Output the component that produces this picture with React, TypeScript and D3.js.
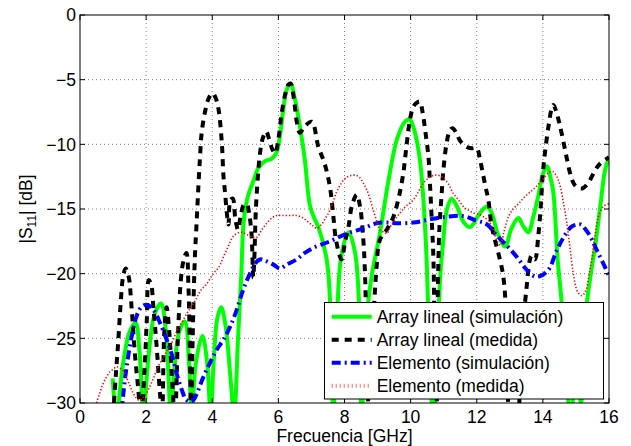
import React from "react";
import * as d3 from "d3";

const W = 631;
const H = 446;

const xTicks = [0, 2, 4, 6, 8, 10, 12, 14, 16];
const yTicks = [-30, -25, -20, -15, -10, -5, 0];

const seriesNames = [
  "Array lineal (simulación)",
  "Array lineal (medida)",
  "Elemento (simulación)",
  "Elemento (medida)",
];

const arraySim: [number, number][] = [
  [0.99, -28.1], [1.1, -31], [1.3, -27], [1.5, -24.5], [1.68, -23.8], [1.8, -26], [1.92, -31],
  [2.05, -27], [2.25, -23.2], [2.45, -22.3], [2.6, -24.5], [2.75, -31], [2.85, -27.5], [3.0, -24.5],
  [3.17, -23.7], [3.3, -27], [3.38, -31], [3.5, -27], [3.7, -24.8], [3.85, -27], [3.95, -31],
  [4.05, -26.5], [4.15, -23.5], [4.27, -22.6], [4.4, -24], [4.55, -28], [4.66, -31], [4.78, -25],
  [4.88, -20], [4.95, -16], [5.08, -14], [5.25, -12.8], [5.4, -11.8], [5.6, -11.3], [5.8, -11.1],
  [5.95, -10.6], [6.05, -9.3], [6.15, -7.3], [6.25, -5.8], [6.37, -5.3], [6.5, -6.5], [6.65, -8.6],
  [6.8, -11.2], [6.96, -14.8], [7.1, -15.8], [7.21, -16.4], [7.46, -18.9], [7.58, -23], [7.66, -31],
  [7.78, -23], [7.9, -18.7], [8.12, -16.8], [8.32, -18.4], [8.45, -23], [8.52, -31], [8.65, -24],
  [8.82, -20.2], [9.07, -16.9], [9.33, -12.8], [9.6, -9.5], [9.85, -8.2], [9.98, -8.1], [10.1, -8.8],
  [10.28, -11.2], [10.45, -17], [10.6, -28], [10.7, -32], [10.8, -26], [10.9, -20], [10.99, -17.4],
  [11.1, -15], [11.24, -14.2], [11.4, -14.8], [11.6, -16], [11.8, -16.4], [12.05, -15.5], [12.3, -14.8],
  [12.45, -15.3], [12.65, -17], [12.86, -17.9], [13.05, -16.5], [13.26, -15.7], [13.4, -16.3],
  [13.56, -16.8], [13.72, -15.5], [13.86, -14], [14.0, -12.3], [14.12, -11.7], [14.25, -12.8],
  [14.32, -13.8], [14.45, -19], [14.57, -22.3], [14.7, -28], [14.85, -31], [15.0, -27], [15.15, -30],
  [15.3, -23], [15.45, -20], [15.58, -17.9], [15.75, -14.5], [15.88, -12], [16.0, -11],
];

const arrayMeas: [number, number][] = [
  [0.98, -32], [1.06, -28.7], [1.11, -26.9], [1.16, -25.1], [1.23, -22.3], [1.3, -20.3], [1.38, -19.6],
  [1.47, -20.2], [1.56, -22.6], [1.66, -26.2], [1.75, -28.6], [1.85, -31], [1.95, -27.5], [2.02, -23.6],
  [2.08, -20.5], [2.15, -20.8], [2.22, -22.6], [2.32, -25.7], [2.42, -29.3], [2.48, -31], [2.55, -24.5],
  [2.62, -22.6], [2.7, -24.5], [2.78, -28], [2.87, -31], [2.96, -25], [3.05, -20.5], [3.13, -19],
  [3.22, -18.4], [3.28, -21], [3.33, -27], [3.36, -31], [3.4, -26], [3.44, -21.5], [3.48, -18.4],
  [3.53, -15.9], [3.58, -13.3], [3.63, -11], [3.68, -9.1], [3.78, -7.5], [3.9, -6.4], [4.01, -6.05],
  [4.1, -6.4], [4.19, -7.3], [4.29, -9.9], [4.34, -12.5], [4.39, -13.8], [4.44, -15.3], [4.49, -16.2],
  [4.55, -14.3], [4.62, -14.2], [4.7, -15.8], [4.78, -16.6], [4.86, -15.5], [4.95, -14.7], [5.04, -14.6],
  [5.12, -15.4], [5.19, -17], [5.24, -20.3], [5.27, -19], [5.32, -15], [5.38, -12.5], [5.44, -10.8],
  [5.52, -9.6], [5.63, -9.0], [5.72, -9.6], [5.82, -10.4], [5.9, -10.7], [6.0, -9.6], [6.1, -7.6],
  [6.2, -6.2], [6.3, -5.4], [6.37, -5.3], [6.47, -6.5], [6.56, -8.3], [6.65, -9.1], [6.8, -8.6],
  [7.01, -8.25], [7.21, -10.2], [7.4, -11.5], [7.56, -13.3], [7.66, -15.5], [7.75, -17.5], [7.91, -18.9],
  [8.02, -17.5], [8.12, -16.4], [8.22, -14.8], [8.37, -13.9], [8.47, -14.8], [8.57, -17.4], [8.62, -20],
  [8.72, -30], [8.77, -31], [8.85, -25], [8.97, -19.5], [9.07, -17.4], [9.3, -16.5], [9.48, -15.6],
  [9.65, -14], [9.78, -12.2], [9.88, -10], [9.98, -8.1], [10.08, -7.1], [10.18, -6.8], [10.28, -6.7],
  [10.36, -7.5], [10.44, -8.9], [10.54, -11], [10.59, -13.3], [10.64, -15.9], [10.69, -18.9],
  [10.74, -28], [10.78, -31], [10.82, -22], [10.87, -16.5], [10.94, -13.8], [10.99, -12], [11.09, -9.9],
  [11.19, -8.9], [11.27, -8.75], [11.38, -9.1], [11.49, -9.7], [11.7, -10.2], [11.85, -10.3],
  [12.0, -10.3], [12.1, -11.2], [12.25, -13.1], [12.35, -14.3], [12.45, -16.3], [12.55, -17.4],
  [12.7, -18.9], [12.79, -20], [12.86, -21.8], [12.95, -30], [13.0, -32], [13.2, -32], [13.3, -29],
  [13.4, -24], [13.51, -21], [13.6, -19], [13.66, -18.6], [13.76, -18.9], [13.86, -17.1], [13.93, -15],
  [14.0, -12.2], [14.07, -10.5], [14.17, -8.6], [14.25, -7.4], [14.32, -6.95], [14.42, -7.6],
  [14.52, -8.6], [14.67, -10.4], [14.82, -12.2], [14.95, -13.1], [15.1, -13.4], [15.2, -13.4],
  [15.37, -13], [15.58, -12], [15.73, -11.5], [16.0, -11],
];

const elemSim: [number, number][] = [
  [1.25, -31], [1.31, -29.3], [1.41, -27.2], [1.56, -24.9], [1.71, -23.3], [1.85, -22.6], [2.02, -22.4],
  [2.22, -22.8], [2.42, -23.8], [2.62, -25.1], [2.77, -26.2], [2.92, -27.7], [3.08, -29], [3.2, -29.7],
  [3.33, -29.9], [3.45, -29.7], [3.53, -29.3], [3.73, -28], [3.93, -26.9], [4.13, -25.9], [4.34, -25.1],
  [4.54, -24.1], [4.74, -22.8], [4.94, -21.2], [5.14, -20], [5.3, -19.2], [5.44, -18.9], [5.6, -19],
  [5.85, -19.3], [6.05, -19.6], [6.25, -19.3], [6.55, -18.9], [6.8, -18.4], [7.06, -18.0], [7.56, -17.5],
  [8.07, -16.9], [8.57, -16.5], [8.97, -16.1], [9.38, -16.05], [9.58, -16.1], [10.08, -16.05],
  [10.59, -15.8], [11.09, -15.6], [11.59, -15.55], [11.99, -15.9], [12.25, -16.1], [12.4, -16.4],
  [12.55, -16.9], [12.86, -17.7], [13.21, -18.7], [13.51, -19.7], [13.75, -20.2], [13.9, -20.2],
  [14.17, -19.7], [14.42, -18.2], [14.67, -17], [14.85, -16.4], [15.02, -16.2], [15.15, -16.2],
  [15.27, -16.5], [15.45, -17.2], [15.58, -17.9], [15.88, -19.5], [16.0, -20.2],
];

const elemMeas: [number, number][] = [
  [0.5, -30], [0.6, -29.2], [0.7, -28.5], [0.8, -28.0], [0.9, -27.6], [1.0, -27.4], [1.1, -27.2],
  [1.2, -27.3], [1.3, -27.5], [1.4, -28.0], [1.5, -28.6], [1.6, -29.2], [1.7, -29.6], [1.8, -29.8],
  [1.9, -29.6], [2.0, -29.3], [2.1, -28.8], [2.2, -28.2], [2.3, -27.6], [2.4, -27.0], [2.5, -26.6],
  [2.62, -26.0], [2.75, -25.5], [2.92, -24.5], [3.05, -23.9], [3.23, -23.1], [3.35, -22.6], [3.5, -22.0],
  [3.65, -21.3], [3.83, -20.8], [4.03, -20.0], [4.2, -19.5], [4.34, -18.7], [4.5, -17.8], [4.64, -17.1],
  [4.84, -16.8], [5.0, -16.9], [5.14, -17.1], [5.34, -17.2], [5.5, -16.6], [5.65, -16.1], [5.8, -15.7],
  [5.95, -15.5], [6.1, -15.5], [6.35, -15.5], [6.55, -15.5], [6.75, -15.7], [6.9, -16.0], [7.05, -16.3],
  [7.16, -16.5], [7.3, -16.2], [7.45, -15.6], [7.56, -15.1], [7.66, -14.4], [7.76, -13.7], [7.86, -13.2],
  [7.96, -12.8], [8.1, -12.5], [8.22, -12.4], [8.35, -12.4], [8.47, -12.6], [8.57, -13.0], [8.67, -13.5],
  [8.77, -14.2], [8.87, -15.1], [8.97, -15.9], [9.07, -16.6], [9.2, -16.8], [9.28, -16.9], [9.38, -16.4],
  [9.5, -15.9], [9.68, -15.3], [9.85, -14.8], [10.08, -14.3], [10.25, -13.6], [10.38, -13.0],
  [10.55, -12.6], [10.69, -12.4], [10.85, -12.4], [10.99, -12.6], [11.15, -13.1], [11.29, -13.8],
  [11.45, -14.3], [11.59, -14.8], [11.75, -15.1], [11.9, -15.3], [12.05, -15.4], [12.2, -15.6],
  [12.35, -15.9], [12.5, -16.6], [12.62, -17.5], [12.72, -17.8], [12.82, -16.8], [12.96, -15.6],
  [13.1, -15.0], [13.26, -14.6], [13.4, -14.2], [13.56, -13.8], [13.7, -13.5], [13.86, -13.1],
  [14.0, -12.7], [14.17, -12.2], [14.3, -12.1], [14.42, -12.5], [14.52, -13.2], [14.62, -14.5],
  [14.72, -16], [14.82, -18], [14.92, -20], [15.05, -21.4], [15.18, -21.7], [15.3, -21.3], [15.4, -20],
  [15.48, -18.9], [15.58, -17], [15.68, -15.6], [15.83, -14.8], [16.0, -14.6],
];

const FONT = "'Liberation Sans', Arial, Helvetica, sans-serif";

export default function App() {
  const left = 80, right = 609, top = 15, bottom = 403;
  const x = d3.scaleLinear().domain([0, 16]).range([left, right]);
  const y = d3.scaleLinear().domain([-30, 0]).range([bottom, top]);
  const line = d3
    .line<[number, number]>()
    .x((d) => x(d[0]))
    .y((d) => y(d[1]))
    .curve(d3.curveCatmullRom.alpha(0.5));

  const styles = [
    { data: arraySim, stroke: "#00ff00", width: 4, dash: undefined as string | undefined },
    { data: arrayMeas, stroke: "#000000", width: 4, dash: "7,6" },
    { data: elemSim, stroke: "#0000ff", width: 4, dash: "9,4,2,4" },
    { data: elemMeas, stroke: "#ff0000", width: 1.6, dash: "1.3,2" },
  ];

  const fmt = (v: number) => (v < 0 ? "\u2212" + Math.abs(v) : String(v));
  const tickLen = 5;
  const legX = 324.5, legY = 302.5, legW = 279, legH = 96.5;

  return (
    <svg
      width={W}
      height={H}
      style={{ position: "absolute", left: 0, top: 0, background: "#fff" }}
      fontFamily={FONT}
    >
      <defs>
        <clipPath id="plotClip">
          <rect x={left} y={top} width={right - left} height={bottom - top} />
        </clipPath>
      </defs>
      <rect x={0} y={0} width={W} height={H} fill="#fff" />
      {xTicks.slice(1, -1).map((t) => (
        <line key={"gx" + t} x1={x(t)} x2={x(t)} y1={top} y2={bottom} stroke="#808080" strokeWidth={1} strokeDasharray="1,3" />
      ))}
      {yTicks.slice(1, -1).map((t) => (
        <line key={"gy" + t} x1={left} x2={right} y1={y(t)} y2={y(t)} stroke="#808080" strokeWidth={1} strokeDasharray="1,3" />
      ))}
      <g clipPath="url(#plotClip)">
        {styles.map((s, i) => (
          <path
            key={i}
            d={line(s.data) || ""}
            fill="none"
            stroke={s.stroke}
            strokeWidth={s.width}
            strokeDasharray={s.dash}
            strokeLinejoin="round"
          />
        ))}
      </g>
      <rect x={left} y={top} width={right - left} height={bottom - top} fill="none" stroke="#000" strokeWidth={1} />
      {xTicks.map((t) => (
        <g key={"tx" + t}>
          <line x1={x(t)} x2={x(t)} y1={bottom} y2={bottom - tickLen} stroke="#000" />
          <line x1={x(t)} x2={x(t)} y1={top} y2={top + tickLen} stroke="#000" />
          <text x={x(t)} y={423} textAnchor="middle" fontSize={17.5} fill="#000">
            {fmt(t)}
          </text>
        </g>
      ))}
      {yTicks.map((t) => (
        <g key={"ty" + t}>
          <line x1={left} x2={left + tickLen} y1={y(t)} y2={y(t)} stroke="#000" />
          <line x1={right} x2={right - tickLen} y1={y(t)} y2={y(t)} stroke="#000" />
          <text x={76} y={y(t) + 6.3} textAnchor="end" fontSize={17.5} fill="#000">
            {fmt(t)}
          </text>
        </g>
      ))}
      <text x={(left + right) / 2} y={441.5} textAnchor="middle" fontSize={17.5} fill="#000">
        Frecuencia [GHz]
      </text>
      <text transform={`translate(32,${(top + bottom) / 2}) rotate(-90)`} textAnchor="middle" fontSize={17.5} fill="#000">
        |S<tspan fontSize={12} dy={4}>11</tspan>
        <tspan dy={-4}>| [dB]</tspan>
      </text>
      <rect x={legX} y={legY} width={legW} height={legH} fill="#fff" stroke="#000" strokeWidth={1} />
      {seriesNames.map((name, i) => {
        const cy = 316.7 + i * 23;
        const s = styles[i];
        return (
          <g key={"leg" + i}>
            <line
              x1={331.7}
              x2={371.7}
              y1={cy}
              y2={cy}
              stroke={s.stroke}
              strokeWidth={i === 3 ? 4 : s.width}
              strokeDasharray={i === 3 ? "1,3" : s.dash}
              strokeOpacity={i === 3 ? 0.6 : 1}
            />
            <text x={376.7} y={cy + 6.5} fontSize={17.5} fill="#000">
              {name}
            </text>
          </g>
        );
      })}
    </svg>
  );
}
